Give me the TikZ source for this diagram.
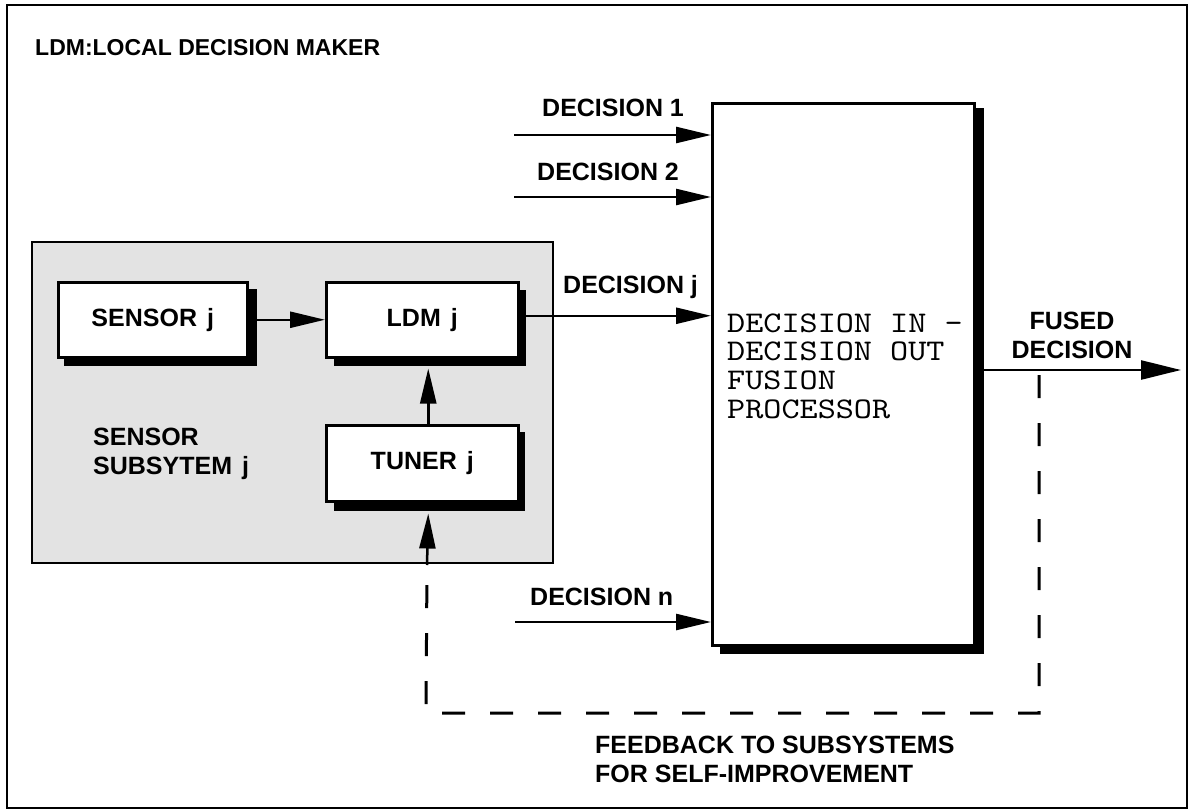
\documentclass[tikz,border=0pt]{standalone}
\usepackage{fontspec}
\setmainfont{Liberation Sans}
\newfontfamily\monof[FakeStretch=1.15]{lmmono10-regular.otf}
\usetikzlibrary{arrows.meta,calc}
\begin{document}
\begin{tikzpicture}[x=1pt,y=-1pt,
  lbl/.style={font=\fontsize{25}{28.5}\selectfont\bfseries, inner sep=0pt, align=left},
  blk/.style={draw, line width=2.5pt, fill=white, inner sep=0pt, anchor=north west,
              font=\fontsize{25}{28}\selectfont\bfseries},
  arr/.style={line width=2.5pt, -{Triangle[length=35pt,width=16pt]}},
  bigarr/.style={line width=2.5pt, -{Triangle[length=40pt,width=19pt]}},
  fb/.style={line width=3pt, dash pattern=on 23pt off 25pt}]
\useasboundingbox (0,0) rectangle (1190,811);
\draw[line width=2pt] (7,5) rectangle (1187,808);
\node[lbl, anchor=base west, font=\fontsize{23}{26}\selectfont\bfseries] (title) at (35,55) {LDM:LOCAL DECISION MAKER};

% sensor subsystem
\node[draw, line width=2pt, fill=black!11, inner sep=0pt, anchor=north west,
      minimum width=521pt, minimum height=321pt] (sub) at (31,241) {};

% shadows
\fill (64,289) rectangle (257,366);
\fill (334,290) rectangle (526,366);
\fill (334,432) rectangle (525,511);
\fill (720,108) rectangle (984,654);

\node[blk, minimum width=189pt, minimum height=75pt] (sens) at (57,281) {SENSOR\hspace{0.4em}j};
\node[blk, minimum width=192pt, minimum height=75pt] (ldm) at (325,281) {LDM\hspace{0.4em}j};
\node[blk, minimum width=192pt, minimum height=76pt] (tun) at (325,424) {TUNER\hspace{0.4em}j};
\node[lbl, anchor=base west] (subl) at (93,474) {SENSOR\\SUBSYTEM\hspace{0.4em}j};

% fusion processor
\node[draw, line width=2.5pt, fill=white, inner sep=0pt, anchor=north west,
      minimum width=262pt, minimum height=542pt] (fus) at (711,102) {};
\node[anchor=base west, inner sep=0pt, align=left,
      font=\monof\fontsize{30}{28.6}\selectfont] (fust) at (727,418)
      {DECISION IN -\\DECISION OUT\\FUSION\\PROCESSOR};

% decision inputs
\coordinate (d1s) at (514,135);
\coordinate (d2s) at (514,197);
\coordinate (dns) at (515,622);
\coordinate (djs) at ($(ldm.east)+(0,-4)$);
\draw[arr] (d1s) -- (d1s -| fus.west);
\draw[arr] (d2s) -- (d2s -| fus.west);
\draw[arr] (dns) -- (dns -| fus.west);
\draw[arr] (djs) -- (djs -| fus.west);
\node[lbl, anchor=base west] (l1) at (542,116) {DECISION 1};
\node[lbl, anchor=base west] (l2) at (537,180) {DECISION 2};
\node[lbl, anchor=base west] (lj) at (563,293) {DECISION j};
\node[lbl, anchor=base west] (ln) at (530,605) {DECISION n};

% inner arrows
\draw[arr] (sens.east) -- (ldm.west);
\draw[arr] ($(tun.north)+(6,0)$) -- ($(ldm.south)+(6,10)$);
\coordinate (fbl) at (427,565);
\draw[arr] (fbl) -- ($(tun.south)+(6,11)$);

% fused output
\coordinate (fout) at (1181,370);
\draw[bigarr] (fus.east |- fout) -- (fout);
\node[lbl, anchor=base, align=center] (fusl) at (1072,358) {FUSED\\DECISION};

% feedback loop
\coordinate (fr) at (1039,375);
\coordinate (c1) at (1039,713);
\coordinate (c2) at (426,713);
\draw[fb] (fr) -- (c1) -- (c2) -- (fbl);
\node[lbl, anchor=base west] (fbt) at (595,782) {FEEDBACK TO SUBSYSTEMS\\FOR SELF-IMPROVEMENT};
\end{tikzpicture}
\end{document}
